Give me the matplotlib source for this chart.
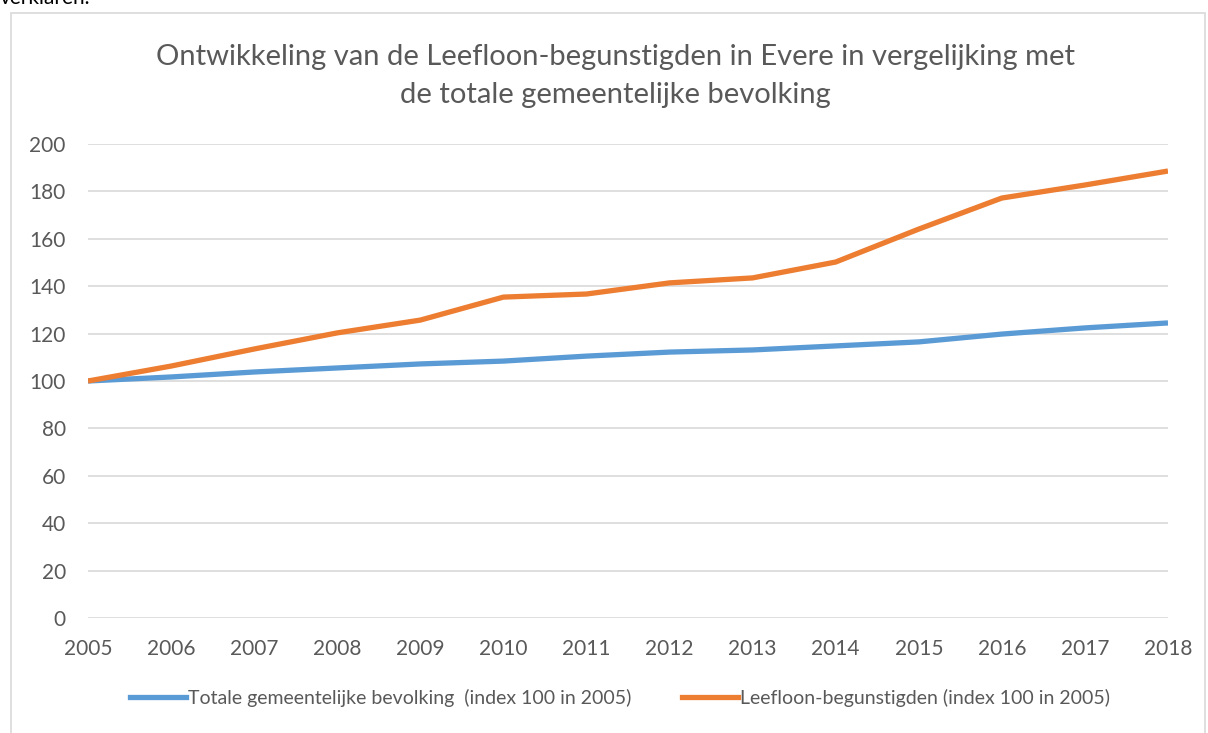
import matplotlib.pyplot as plt
from matplotlib.patches import Rectangle
from matplotlib.lines import Line2D

years = [2005, 2006, 2007, 2008, 2009, 2010, 2011, 2012, 2013, 2014, 2015, 2016, 2017, 2018]
bevolking = [100, 101.7, 103.8, 105.5, 107.2, 108.4, 110.5, 112.2, 113.1, 114.8, 116.5, 119.8, 122.4, 124.5]
leefloon = [100, 106.3, 113.5, 120.3, 125.7, 135.4, 136.7, 141.4, 143.5, 150.2, 164.1, 177.2, 182.7, 188.6]
yticks = list(range(0, 201, 20))

label_bev = "Totale gemeentelijke bevolking  (index 100 in 2005)"
label_lee = "Leefloon-begunstigden (index 100 in 2005)"
title = "Ontwikkeling van de Leefloon-begunstigden in Evere in vergelijking met\nde totale gemeentelijke bevolking"

blue = "#5B9BD5"
orange = "#ED7D31"
grey = "#595959"

plt.rcParams['font.family'] = ['Lato', 'DejaVu Sans']

W, H = 1208, 733
fig = plt.figure(figsize=(W / 100, H / 100), dpi=100)

# chart frame and the cut-off text above it
fig.patches.append(Rectangle((11 / W, -0.01), (1205 - 11) / W, 1 - 13 / H + 0.01,
                             transform=fig.transFigure, fill=False,
                             edgecolor="#d9d9d9", linewidth=1.2))
fig.text(0 / W, 1 + 2 / H, "verklaren.", fontsize=15, color="black", va="center", ha="left")

ax = fig.add_axes([88 / W, 1 - 618 / H, (1168 - 88) / W, (618 - 144) / H])
ax.plot(years, bevolking, color=blue, linewidth=3.8, solid_capstyle="butt", label=label_bev)
ax.plot(years, leefloon, color=orange, linewidth=3.8, solid_capstyle="butt", label=label_lee)

ax.set_xlim(2005, 2018)
ax.set_ylim(0, 200)
ax.set_xticks(years)
ax.set_yticks(yticks)
ax.grid(axis="y", color="#d9d9d9", linewidth=1.2)
ax.set_axisbelow(True)
for s in ax.spines.values():
    s.set_visible(False)
ax.tick_params(length=0, labelsize=15, labelcolor=grey)
ax.tick_params(axis="x", pad=15)
ax.tick_params(axis="y", pad=16)

fig.text(615 / W, 1 - 76 / H, title, fontsize=21, color=grey, ha="center", va="center",
         linespacing=1.55)

handles = [Line2D([], [], color=blue, linewidth=3.8), Line2D([], [], color=orange, linewidth=3.8)]
fig.legend(handles, [label_bev, label_lee], loc="center", bbox_to_anchor=(620 / W, 1 - 698 / H),
           ncol=2, frameon=False, fontsize=14, labelcolor=grey, handlelength=2.9,
           handletextpad=0.1, columnspacing=2.6)

fig.savefig("out.png", dpi=100)
